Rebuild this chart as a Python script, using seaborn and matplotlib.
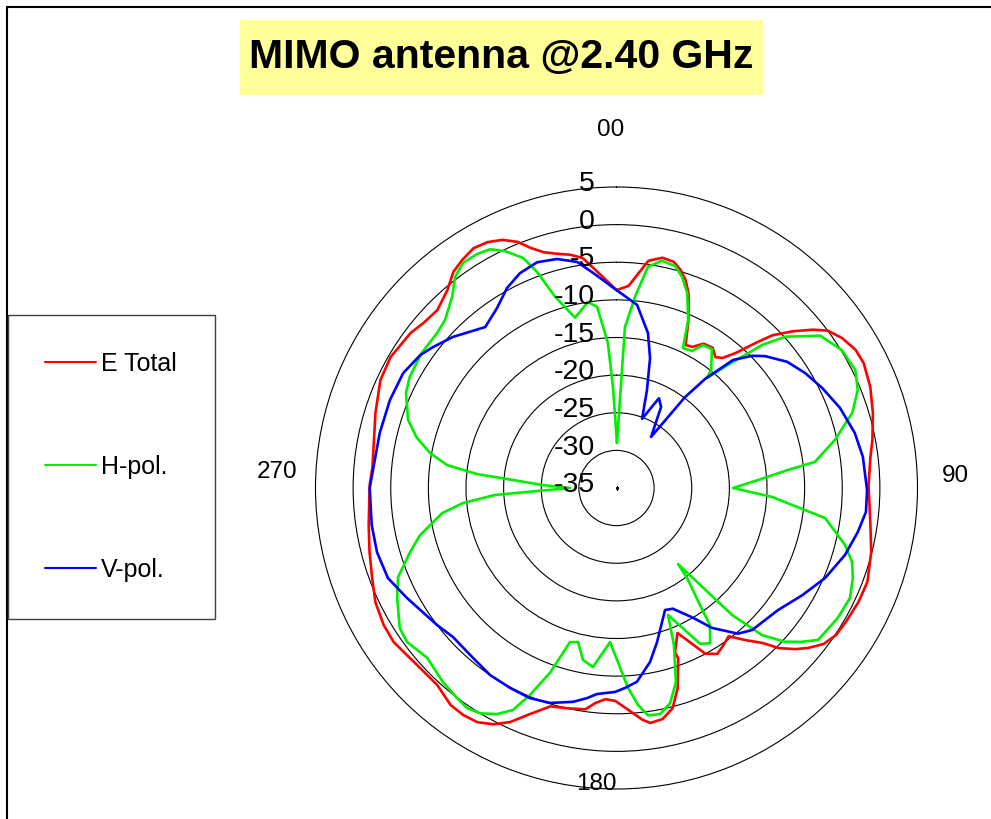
import numpy as np
import pandas as pd
import seaborn as sns
import matplotlib.pyplot as plt
from matplotlib.lines import Line2D
from matplotlib.patches import Rectangle

# pattern values (angle in degrees, gain in dB)
etotal_deg = [0, 3.4, 8.0, 11.3, 14.2, 16.4, 18.4, 20.3, 23.2, 25.8, 28.3, 31.1, 34.4, 37.1, 39.2,
              41.4, 43.8, 45.6, 48.3, 51.1, 53.3, 56.4, 60.0, 63.2, 68.3, 73.7, 79.4, 83.0, 89.3,
              98.3, 104.1, 110.5, 115.2, 120.3, 123.9, 127.0, 129.8, 132.0, 134.6, 136.7, 139.7,
              142.9, 145.7, 148.7, 151.8, 157.2, 160.4, 160.1, 163.0, 165.7, 168.7, 171.8, 173.6,
              176.9, 180.3, 183.0, 185.6, 188.0, 192.6, 196.8, 201.4, 204.4, 207.5, 210.7, 214.0,
              217.4, 222.3, 227.4, 232.4, 235.4, 239.5, 244.7, 249.8, 255.5, 261.5, 270.7, 274.9,
              287.3, 294.6, 300.1, 307.0, 310.5, 314.8, 319.5, 323.0, 326.0, 329.2, 332.3, 335.3,
              338.1, 340.3, 342.8, 345.8, 348.8, 351.6, 354.0, 356.5]
etotal_db = [-8.7, -8.1, -4.5, -3.8, -4.0, -4.8, -5.9, -7.4, -10.7, -13.9, -13.7, -12.6, -12.4, -13.2, -12.7,
             -11.1, -8.3, -6.0, -3.7, -1.5, 0.0, 1.0, 1.7, 1.8, 1.3, 0.5, -0.4, -1.0, -1.5,
             -0.9, -0.1, 0.6, 0.55, 0.3, 0.1, -0.55, -1.8, -3.0, -4.7, -6.7, -8.5,
             -10.3, -9.75, -9.2, -10.0, -14.1, -11.8, -10.9, -7.2, -4.8, -3.7, -3.45, -4.0,
             -5.45, -6.7, -6.9, -6.3, -5.3, -5.0, -4.7, -2.6, -0.85, 0.4, 1.2, 1.4,
             1.3, 0.4, 0.4, 0.7, 1.0, 0.9, 0.45, -0.4, -1.1, -1.7, -2.2, -2.45,
             -1.45, -0.5, -0.3, -0.75, -1.25, -1.45, -0.4, 1.0, 1.6, 2.1, 1.9, 1.3,
             0.25, -1.1, -2.2, -2.9, -3.4, -4.1, -5.6, -7.0]

hpol_deg = [0.6, 3.0, 5.5, 8.1, 11.3, 14.8, 17.2, 19.9, 23.1, 25.4, 28.9, 31.2, 34.5, 38.7, 39.4,
            42.2, 45.5, 48.1, 53.2, 58.5, 63.7, 67.9, 72.3, 77.6, 82.5, 84.0, 86.8, 90.0, 93.3,
            98.2, 104.0, 107.4, 110.8, 115.2, 120.4, 127.0, 129.7, 132.4, 135.3, 137.7, 141.0,
            141.9, 144.5, 145.7, 148.9, 151.8, 157.9, 159.9, 163.0, 166.0, 169.1, 172.1, 174.3,
            176.7, 182.4, 187.5, 191.0, 194.0, 196.8, 199.8, 202.7, 205.0, 207.9, 211.2, 214.2,
            217.2, 221.8, 228.1, 233.7, 237.1, 243.4, 247.8, 252.8, 256.5, 261.8, 264.4, 266.7,
            270.0, 272.3, 274.7, 275.7, 277.7, 280.6, 284.1, 288.1, 294.3, 298.3, 304.8, 310.8,
            314.4, 319.3, 322.6, 325.7, 329.2, 332.1, 334.8, 337.9, 339.8, 342.2, 346.3, 351.3,
            353.9, 356.6, 358.0]
hpol_db = [-29.0, -13.6, -9.5, -5.3, -4.2, -4.5, -5.6, -7.4, -10.7, -14.4, -14.2, -12.8, -12.6, -14.9, -16.1,
           -12.9, -7.9, -4.9, -1.2, 0.1, 0.4, -0.4, -2.1, -5.3, -8.4, -12.1, -16.2, -19.5, -14.3,
           -7.0, -3.7, -2.2, -1.4, -0.7, -0.9, -1.45, -3.0, -4.7, -7.5, -12.2, -22.0,
           -19.8, -15.9, -13.0, -10.9, -11.5, -16.8, -12.8, -8.0, -5.55, -4.4, -4.5, -6.0,
           -8.4, -14.5, -11.0, -11.7, -13.9, -13.6, -8.9, -5.2, -2.45, -1.0, 0.0, 0.35,
           0.05, -0.4, -1.2, -0.45, -0.7, -2.4, -3.65, -6.3, -8.15, -11.6, -14.5, -18.8,
           -28.8, -25.2, -20.4, -16.4, -12.3, -9.8, -7.65, -5.85, -4.3, -3.8, -3.5, -3.5,
           -3.1, -1.5, 0.3, 1.2, 1.2, 0.9, -0.2, -2.0, -4.4, -8.3, -11.7, -10.0,
           -10.8, -15.7, -21.6]

vpol_deg = [0.0, 6.4, 11.5, 14.5, 17.3, 20.3, 25.3, 28.8, 34.1, 37.0, 39.1, 42.3, 45.7, 48.4, 53.5,
            58.6, 64.1, 70.3, 77.0, 82.8, 90.5, 95.5, 100.3, 106.3, 113.3, 120.0, 127.1, 136.3,
            140.2, 145.7, 149.5, 155.0, 158.3, 165.3, 169.1, 174.0, 177.6, 180.4, 185.4, 188.0,
            191.5, 197.2, 202.4, 208.0, 214.1, 221.3, 227.7, 232.6, 242.3, 248.5, 255.0, 261.4,
            270.0, 283.1, 291.2, 298.3, 304.1, 307.5, 312.7, 320.8, 326.4, 331.3, 335.8, 340.6,
            345.4, 350.1, 353.8]
vpol_db = [-8.7, -10.5, -14.0, -17.2, -21.4, -25.2, -21.8, -22.7, -26.8, -19.9, -16.3, -12.0, -9.85, -8.6, -6.8,
           -5.65, -4.6, -3.45, -2.5, -2.0, -1.7, -1.7, -2.4, -3.35, -4.8, -6.5, -8.1, -8.9,
           -9.8, -12.5, -15.0, -17.3, -17.55, -13.8, -11.45, -9.1, -8.4, -7.9, -7.5, -6.8,
           -6.0, -5.1, -4.8, -4.9, -5.0, -5.5, -5.6, -5.0, -3.55, -2.35, -2.05, -2.1,
           -2.2, -2.7, -2.7, -2.8, -3.5, -4.25, -5.4, -7.4, -6.3, -4.7, -3.7, -3.2,
           -3.55, -4.5, -6.25]

series_names = ['E Total', 'H-pol.', 'V-pol.']
series_colors = ['#ff0000', '#00ee00', '#0000ff']
ring_values = [5, 0, -5, -10, -15, -20, -25, -30, -35]
angle_labels = ['00', '90', '180', '270']


def closed_frame(deg, db, name):
    # repeat the first point so each trace closes on itself
    deg = list(deg) + [deg[0] + 360]
    db = list(db) + [db[0]]
    return pd.DataFrame({'theta': np.deg2rad(deg), 'gain': db, 'series': name})


df = pd.concat([closed_frame(etotal_deg, etotal_db, series_names[0]),
                closed_frame(hpol_deg, hpol_db, series_names[1]),
                closed_frame(vpol_deg, vpol_db, series_names[2])], ignore_index=True)

sns.set_style('white')
plt.rcParams['font.family'] = ['Liberation Sans', 'DejaVu Sans']
plt.rcParams['text.color'] = 'black'

fig = plt.figure(figsize=(9.91, 8.19), dpi=100)
ax = fig.add_axes([315.5 / 991, 30 / 819, 602 / 991, 602 / 819], projection='polar')
ax.set_theta_zero_location('N')
ax.set_theta_direction(-1)

sns.lineplot(data=df, x='theta', y='gain', hue='series', palette=dict(zip(series_names, series_colors)),
             sort=False, estimator=None, linewidth=1.9, legend=False, ax=ax)

ax.set_rlim(-35, 5)
ax.set_rticks([-30, -25, -20, -15, -10, -5, 0])
ax.set_yticklabels([])
ax.set_xticks([])
ax.set_xlabel('')
ax.set_ylabel('')
ax.yaxis.grid(True, color='black', linewidth=0.8, linestyle='-')
ax.spines['polar'].set_color('black')
ax.spines['polar'].set_linewidth(0.8)
ax.plot([0], [-35], marker='s', color='black', markersize=1.2)

# radial scale labels along the top spoke
for r in ring_values:
    ax.annotate(str(r), xy=(0, r), xytext=(-15.5, 2.0), textcoords='offset points',
                ha='right', va='center', fontsize=20.5, annotation_clip=False)

# compass labels
label_pos = [(610.5, 129.5), (955.5, 475.5), (596, 784), (277, 472)]
for txt, (px, py) in zip(angle_labels, label_pos):
    fig.text(px / 991, 1 - py / 819, txt, ha='center', va='center', fontsize=17.5)

# title in its yellow box
fig.add_artist(Rectangle((240 / 991, 1 - 95 / 819), 523 / 991, 75 / 819, transform=fig.transFigure,
                         facecolor='#ffff99', edgecolor='none', zorder=0))
fig.text(501.5 / 991, 1 - 57 / 819, 'MIMO antenna @2.40 GHz', ha='center', va='center',
         fontsize=29.5, fontweight='bold')

# chart-area border (top and left edges)
fig.add_artist(Line2D([7 / 991, 1], [1 - 7 / 819, 1 - 7 / 819], transform=fig.transFigure,
                      color='black', linewidth=1.5))
fig.add_artist(Line2D([7 / 991, 7 / 991], [0, 1 - 7 / 819], transform=fig.transFigure,
                      color='black', linewidth=1.5))

handles = [Line2D([], [], color=c, linewidth=1.5) for c in series_colors]
leg = fig.legend(handles, series_names, loc='upper left', bbox_to_anchor=(7.5 / 991, 1 - 314.5 / 819),
                 bbox_transform=fig.transFigure, borderaxespad=0, fontsize=18, frameon=True,
                 fancybox=False, framealpha=1, edgecolor='#404040', borderpad=1.5,
                 labelspacing=3.15, handlelength=2.05, handletextpad=0.2)
leg.get_frame().set_linewidth(1.0)

fig.savefig('out.png', dpi=100)
